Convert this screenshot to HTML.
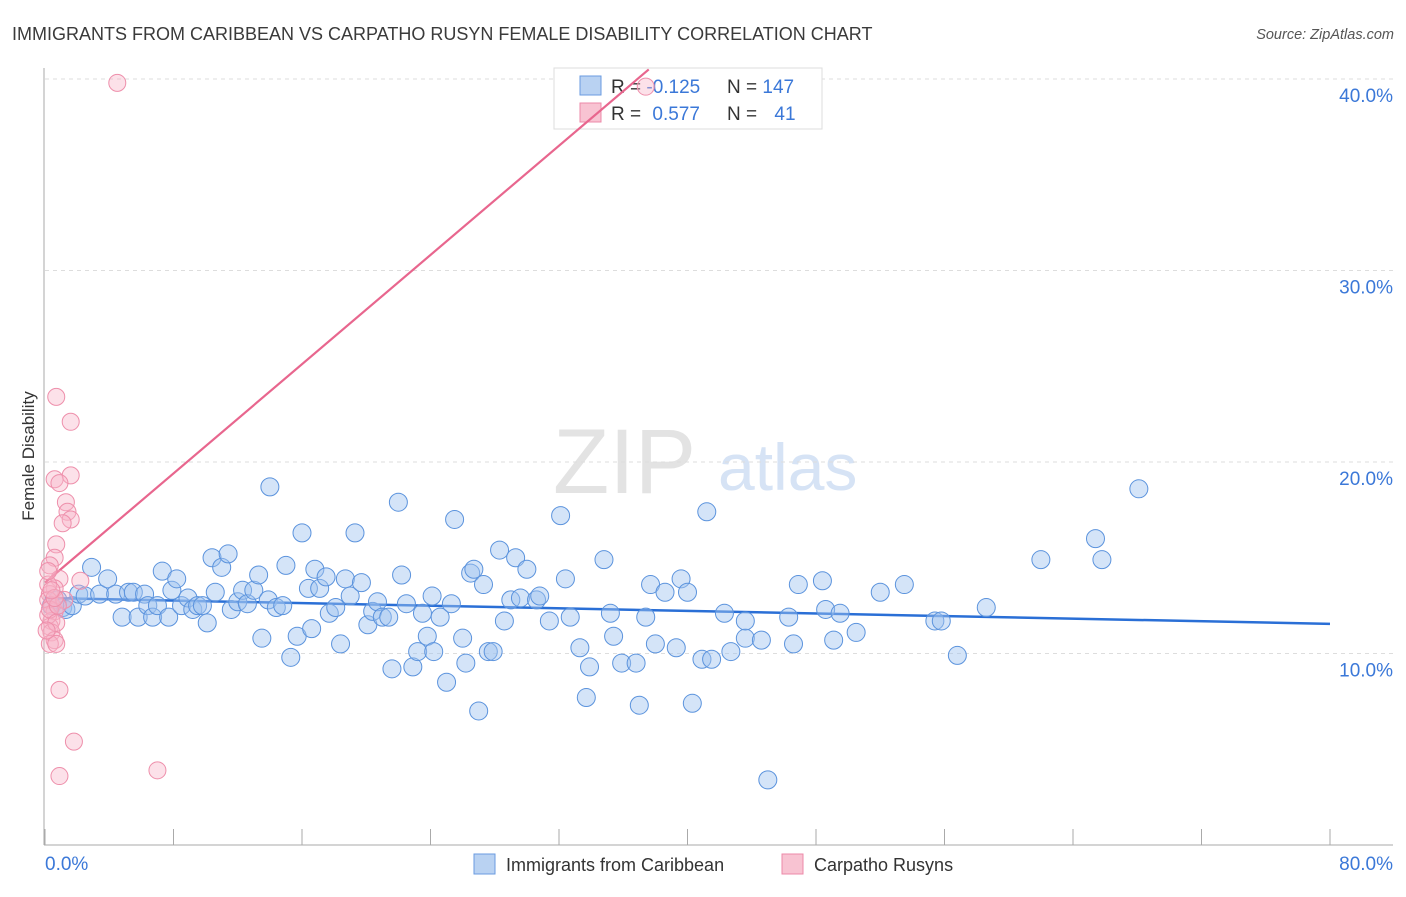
<!DOCTYPE html>
<html><head><meta charset="utf-8"><style>
body{margin:0;background:#fff;font-family:"Liberation Sans",sans-serif;}
svg text{font-family:"Liberation Sans",sans-serif;}
</style></head><body>
<svg id="chart" width="1406" height="892" viewBox="0 0 1406 892" xmlns="http://www.w3.org/2000/svg">
<text x="12" y="40" font-size="18" fill="#3a3a3a">IMMIGRANTS FROM CARIBBEAN VS CARPATHO RUSYN FEMALE DISABILITY CORRELATION CHART</text>
<text x="1394" y="39" font-size="14.5" fill="#555" font-style="italic" text-anchor="end">Source: ZipAtlas.com</text>
<g>
<text x="553" y="493" font-family="Liberation Serif" font-size="92" fill="#e3e3e3">ZIP</text>
<text x="718" y="490" font-size="66" fill="#d6e3f5">atlas</text>
</g>
<g id="grid"></g>
<g id="axes"></g>
<g>
<rect x="554" y="68" width="268" height="61" fill="#fff" stroke="#ddd"/>
<rect x="580" y="76" width="21" height="19" fill="#b9d2f2" stroke="#6a9be0"/>
<rect x="580" y="103" width="21" height="19" fill="#f8c3d2" stroke="#ec8aa8"/>
<text x="611" y="93" font-size="19" fill="#333">R = <tspan fill="#3b78d8">-0.125</tspan></text>
<text x="727" y="93" font-size="19" fill="#333">N = <tspan fill="#3b78d8">147</tspan></text>
<text x="611" y="120" font-size="19" fill="#333">R = <tspan fill="#3b78d8" dx="6">0.577</tspan></text>
<text x="727" y="120" font-size="19" fill="#333">N = <tspan fill="#3b78d8" dx="12">41</tspan></text>
</g>
<g id="trend"></g>
<g id="points"></g>
<text transform="translate(34,456) rotate(-90)" font-size="17" fill="#333" text-anchor="middle">Female Disability</text>
<g>
<rect x="474" y="854" width="21" height="20" fill="#b9d2f2" stroke="#6a9be0"/>
<text x="506" y="871" font-size="18" fill="#333">Immigrants from Caribbean</text>
<rect x="782" y="854" width="21" height="20" fill="#f8c3d2" stroke="#ec8aa8"/>
<text x="814" y="871" font-size="18" fill="#333">Carpatho Rusyns</text>
</g>
</svg>
<script>
const blueX=[0.4,0.8,1.1,1.3,1.7,2.1,2.5,2.9,3.4,3.9,4.4,4.8,5.2,5.5,5.8,6.2,6.4,6.7,7.0,7.3,7.7,7.9,8.2,8.5,8.9,9.2,9.5,9.8,10.1,10.4,10.6,11.0,11.4,11.6,12.0,12.3,12.6,13.0,13.3,13.5,13.9,14.0,14.4,14.8,15.0,15.3,15.7,16.0,16.4,16.6,16.8,17.1,17.5,17.7,18.1,18.4,18.7,19.0,19.3,19.7,20.1,20.4,20.7,21.0,21.4,21.6,22.0,22.2,22.5,22.9,23.2,23.5,23.8,24.1,24.2,24.6,25.0,25.3,25.5,26.0,26.2,26.5,26.7,27.0,27.3,27.6,27.9,28.3,28.6,29.0,29.3,29.6,30.0,30.6,30.8,31.4,32.1,32.4,32.7,33.3,33.7,33.9,34.8,35.2,35.4,35.9,36.8,37.0,37.4,37.7,38.0,38.6,39.3,39.6,40.0,40.3,40.9,41.2,41.5,42.3,42.7,43.6,43.6,44.6,46.3,46.6,46.9,48.4,48.6,49.1,49.5,50.5,52.0,53.5,55.4,55.8,56.8,58.6,62.0,65.4,65.8,68.1,45.0];
const blueY=[12.5,12.8,12.4,12.3,12.5,13.1,13.0,14.5,13.1,13.9,13.1,11.9,13.2,13.2,11.9,13.1,12.5,11.9,12.5,14.3,11.9,13.3,13.9,12.5,12.9,12.3,12.5,12.5,11.6,15.0,13.2,14.5,15.2,12.3,12.7,13.3,12.6,13.3,14.1,10.8,12.8,18.7,12.4,12.5,14.6,9.8,10.9,16.3,13.4,11.3,14.4,13.4,14.0,12.1,12.4,10.5,13.9,13.0,16.3,13.7,11.5,12.2,12.7,11.9,11.9,9.2,17.9,14.1,12.6,9.3,10.1,12.1,10.9,13.0,10.1,11.9,8.5,12.6,17.0,10.8,9.5,14.2,14.4,7.0,13.6,10.1,10.1,15.4,11.7,12.8,15.0,12.9,14.4,12.8,13.0,11.7,17.2,13.9,11.9,10.3,7.7,9.3,14.9,12.1,10.9,9.5,9.5,7.3,11.9,13.6,10.5,13.2,10.3,13.9,13.2,7.4,9.7,17.4,9.7,12.1,10.1,10.8,11.7,10.7,11.9,10.5,13.6,13.8,12.3,10.7,12.1,11.1,13.2,13.6,11.7,11.7,9.9,12.4,14.9,16.0,14.9,18.6,3.4];
const pinkX=[4.5,0.7,1.6,1.6,0.6,0.9,1.3,1.4,1.6,1.1,0.7,0.6,0.3,0.9,0.6,2.2,0.3,0.2,0.4,0.6,0.4,0.3,0.4,0.6,0.3,0.7,0.9,1.8,0.9,7.0,37.4,0.2,0.3,0.7,1.2,0.8,0.2,0.6,0.4,0.1,0.2];
const pinkY=[39.8,23.4,22.1,19.3,19.1,18.9,17.9,17.4,17.0,16.8,15.7,15.0,14.6,13.9,13.4,13.8,13.1,12.8,12.5,12.2,11.7,11.4,11.1,10.7,10.5,10.5,8.1,5.4,3.6,3.9,39.6,12.0,12.3,11.6,12.8,12.5,13.6,12.9,13.3,11.2,14.3];
const blueTrend=[12.9,11.55]; // y at x=0 and x=80
const pinkTrend=[13.7,0.713]; // intercept, slope
const yTicks=[10,20,30,40];
const yTickLabels=["10.0%","20.0%","30.0%","40.0%"];
const xTickVals=[0,8,16,24,32,40,48,56,64,72,80];

const NS="http://www.w3.org/2000/svg";
const X0=45,X1=1330,Y0=845,PXY=19.15;
function sx(v){return X0+(X1-X0)*v/80;}
function sy(v){return Y0-v*PXY;}
function mk(tag,attrs,parent){const e=document.createElementNS(NS,tag);for(const k in attrs)e.setAttribute(k,attrs[k]);parent.appendChild(e);return e;}
const grid=document.getElementById('grid'),axes=document.getElementById('axes');
yTicks.forEach((t,i)=>{
 const l=mk('line',{x1:45,x2:1393,y1:sy(t),y2:sy(t),stroke:'#ddd','stroke-dasharray':'4,4'},grid);
 
 
 const tx=mk('text',{x:1393,y:sy(t)+23,'font-size':19,fill:'#3b78d8','text-anchor':'end'},axes);
 tx.textContent=yTickLabels[i];
 
 
});
const ya=mk('line',{x1:44,x2:44,y1:68,y2:845,stroke:'#aaa'},axes);


const xa=mk('line',{x1:44,x2:1393,y1:845,y2:845,stroke:'#aaa'},axes);


xTickVals.forEach(t=>{
 const l=mk('line',{x1:sx(t),x2:sx(t),y1:829,y2:845,stroke:'#aaa'},axes);
 
 
});
const xl0=mk('text',{x:45,y:870,'font-size':19,fill:'#3b78d8'},axes);xl0.textContent='0.0%';


const xl1=mk('text',{x:1393,y:870,'font-size':19,fill:'#3b78d8','text-anchor':'end'},axes);xl1.textContent='80.0%';



const pts=document.getElementById('points');
blueX.forEach((x,i)=>{
 const c=mk('circle',{cx:sx(x),cy:sy(blueY[i]),r:9,fill:'rgba(160,195,240,0.45)',stroke:'#5b93dd','stroke-width':1},pts);
 
 
});
pinkX.forEach((x,i)=>{
 const c=mk('circle',{cx:sx(x),cy:sy(pinkY[i]),r:8.5,fill:'rgba(248,180,200,0.4)',stroke:'#ee8fab','stroke-width':1},pts);
 
 
});
const tr=document.getElementById('trend');
const bl=mk('line',{x1:sx(0),y1:sy(blueTrend[0]),x2:sx(80),y2:sy(blueTrend[1]),stroke:'#2a6fd6','stroke-width':2.5},tr);


const xEnd=(40.5-pinkTrend[0])/pinkTrend[1];
const pl=mk('line',{x1:sx(0),y1:sy(pinkTrend[0]),x2:sx(xEnd),y2:sy(pinkTrend[0]+pinkTrend[1]*xEnd),stroke:'#e8668e','stroke-width':2.2},tr);


</script>
</body></html>
